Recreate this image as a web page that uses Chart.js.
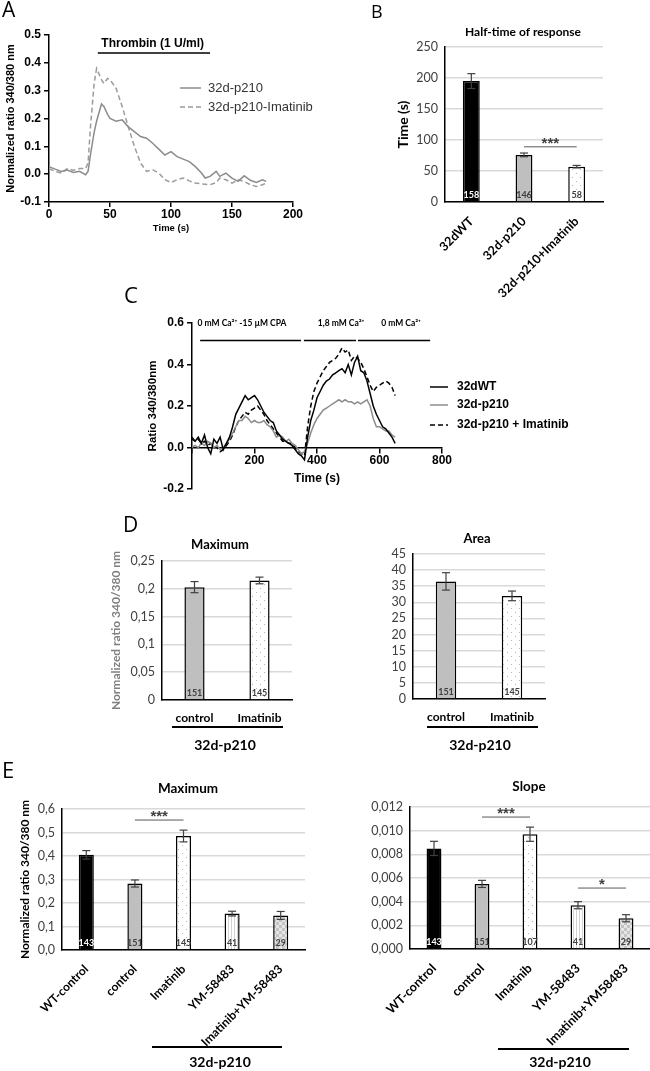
<!DOCTYPE html>
<html>
<head>
<meta charset="utf-8">
<script src="https://cdn.jsdelivr.net/npm/chart.js@4.4.1/dist/chart.umd.min.js"></script>
<style>
  body { margin: 0; background: #fff; }
  #page { position: relative; width: 650px; height: 1071px; overflow: hidden; }
  canvas, .tag { position: absolute; }
  .tag { font-family: "Open Sans", sans-serif; line-height: 1; color: #000; }
</style>
</head>
<body>
<div id="page">
  <canvas id="chA" width="320" height="240" style="left:0;top:0"></canvas>
  <canvas id="chB" width="320" height="300" style="left:330px;top:0"></canvas>
  <canvas id="chC" width="480" height="215" style="left:120px;top:290px"></canvas>
  <canvas id="chDmax" width="230" height="245" style="left:90px;top:515px"></canvas>
  <canvas id="chDarea" width="220" height="245" style="left:345px;top:515px"></canvas>
  <canvas id="chEmax" width="320" height="311" style="left:0;top:760px"></canvas>
  <canvas id="chEslope" width="320" height="311" style="left:330px;top:760px"></canvas>
  <div class="tag" style="left:2px;top:-1px;font-size:21px">A</div>
  <div class="tag" style="left:371px;top:2px;font-size:18px">B</div>
  <div class="tag" style="left:124px;top:283px;font-size:22px">C</div>
  <div class="tag" style="left:123px;top:514px;font-size:21px">D</div>
  <div class="tag" style="left:2px;top:758px;font-size:22px">E</div>
</div>
<script>
const LATO = "Lato, 'Open Sans', sans-serif";
const ARIAL = "'Liberation Sans', Arial, sans-serif";

// A - thrombin (1 U/ml), normalized ratio 340/380
const timeA = [0, 5, 10, 15, 20, 25, 30, 32, 34, 37, 39, 43, 45, 48, 50, 55, 60, 65, 70, 75, 80, 85, 90, 95, 100, 105, 110, 115, 120, 125, 128, 132, 137, 140, 145, 150, 155, 160, 165, 170, 175, 178];
const p210A = [0.027, 0.018, 0.010, 0.015, 0.006, 0.010, -0.002, 0.010, 0.070, 0.150, 0.190, 0.252, 0.243, 0.215, 0.200, 0.190, 0.195, 0.170, 0.153, 0.135, 0.129, 0.111, 0.090, 0.069, 0.081, 0.063, 0.054, 0.045, 0.027, 0.004, -0.014, -0.008, 0.010, -0.008, 0.004, -0.014, -0.026, -0.006, -0.022, -0.030, -0.020, -0.026];
const imatinibA = [0.020, 0.010, 0.004, 0.020, 0.014, 0.020, 0.020, 0.040, 0.170, 0.326, 0.380, 0.340, 0.326, 0.344, 0.340, 0.308, 0.243, 0.170, 0.100, 0.040, 0.010, 0.016, 0.004, -0.020, -0.030, -0.020, -0.014, -0.024, -0.032, -0.035, -0.036, -0.038, -0.030, -0.014, -0.020, -0.032, -0.020, -0.026, -0.038, -0.044, -0.038, -0.032];

// B - half-time of response (s)
const catsB = ['32dWT', '32d-p210', '32d-p210+Imatinib'];
const halfTimeB = [195, 76, 57];
const halfTimeErrB = [12, 3, 2];
const nB = [158, 146, 58];

// C - 0 Ca2+ / CPA, then 1,8 mM Ca2+ add-back
const timeC = [0, 10, 20, 30, 40, 50, 60, 70, 80, 90, 100, 110, 120, 130, 140, 150, 160, 170, 180, 190, 200, 210, 220, 230, 240, 250, 260, 270, 280, 290, 300, 310, 320, 330, 340, 350, 360, 370, 380, 390, 400, 410, 420, 430, 440, 450, 460, 470, 480, 490, 500, 510, 520, 530, 540, 550, 560, 570, 580, 590, 600, 610, 620, 630, 640, 650];
const wtC = [0.04, 0.03, 0.05, 0.02, 0.06, 0.00, -0.03, 0.04, 0.02, 0.05, -0.01, 0.02, 0.05, 0.10, 0.16, 0.19, 0.22, 0.25, 0.23, 0.24, 0.25, 0.23, 0.20, 0.17, 0.15, 0.13, 0.12, 0.08, 0.06, 0.04, 0.03, 0.02, 0.01, -0.01, -0.03, -0.04, -0.06, 0.05, 0.13, 0.18, 0.24, 0.27, 0.30, 0.32, 0.33, 0.35, 0.36, 0.37, 0.38, 0.36, 0.40, 0.35, 0.41, 0.44, 0.37, 0.36, 0.32, 0.26, 0.20, 0.16, 0.13, 0.10, 0.09, 0.07, 0.05, 0.02];
const p210C = [0.00, 0.01, 0.00, 0.02, 0.01, 0.03, 0.02, 0.00, 0.01, -0.01, 0.00, 0.02, 0.04, 0.07, 0.10, 0.13, 0.13, 0.15, 0.14, 0.12, 0.13, 0.12, 0.12, 0.13, 0.11, 0.10, 0.08, 0.05, 0.06, 0.05, 0.03, 0.04, 0.02, 0.01, -0.01, -0.03, -0.02, 0.02, 0.07, 0.11, 0.14, 0.16, 0.18, 0.19, 0.20, 0.21, 0.22, 0.23, 0.22, 0.23, 0.22, 0.22, 0.21, 0.22, 0.21, 0.22, 0.23, 0.20, 0.14, 0.10, 0.10, 0.09, 0.08, 0.08, 0.06, 0.05];
const imatinibC = [0.05, 0.03, 0.04, 0.02, 0.03, 0.01, 0.02, 0.00, 0.00, -0.02, -0.01, 0.01, 0.03, 0.06, 0.10, 0.13, 0.15, 0.17, 0.16, 0.18, 0.19, 0.20, 0.18, 0.16, 0.13, 0.11, 0.09, 0.07, 0.05, 0.03, 0.03, 0.02, 0.02, 0.00, -0.02, -0.03, -0.04, 0.10, 0.20, 0.27, 0.31, 0.34, 0.37, 0.39, 0.41, 0.42, 0.43, 0.45, 0.48, 0.46, 0.47, 0.42, 0.44, 0.43, 0.41, 0.38, 0.34, 0.30, 0.27, 0.29, 0.30, 0.31, 0.32, 0.31, 0.29, 0.25];

// D - 32d-p210 control vs Imatinib
const catsD = ['control', 'Imatinib'];
const maxD = [0.203, 0.215];
const maxErrD = [0.010, 0.006];
const areaD = [36.5, 32.0];
const areaErrD = [2.7, 1.5];
const nD = [151, 145];

// E - maximum and slope
const catsEmax = ['WT-control', 'control', 'Imatinib', 'YM-58483', 'Imatinib+YM-58483'];
const catsEslope = ['WT-control', 'control', 'Imatinib', 'YM-58483', 'Imatinib+YM58483'];
const maxE = [0.405, 0.283, 0.485, 0.155, 0.147];
const maxErrE = [0.018, 0.015, 0.025, 0.010, 0.017];
const nMaxE = [143, 151, 145, 41, 29];
const slopeE = [0.0085, 0.0055, 0.0097, 0.0037, 0.0026];
const slopeErrE = [0.0006, 0.0003, 0.0006, 0.0003, 0.0003];
const nSlopeE = [143, 151, 107, 41, 29];

// fills
function tile(w, h, paint) {
  const p = document.createElement('canvas');
  p.width = w; p.height = h;
  const g = p.getContext('2d');
  g.fillStyle = '#fff'; g.fillRect(0, 0, w, h);
  paint(g);
  return g.createPattern(p, 'repeat');
}
const DOTS = tile(8, 8, g => { g.fillStyle = '#b4b4b4'; g.fillRect(2, 1, 1, 1); g.fillRect(6, 5, 1, 1); });
const STRIPES = tile(3, 4, g => { g.fillStyle = '#d2d2d2'; g.fillRect(0, 0, 1, 4); });
const CHECK = tile(6, 6, g => { g.fillStyle = '#e6e6e6'; g.fillRect(0, 0, 6, 6); g.fillStyle = '#c4c4c4'; g.fillRect(0, 0, 3, 3); g.fillRect(3, 3, 3, 3); });
const GREY = '#bfbfbf';

// drawing helpers
function txt(c, s, x, y, font, color, align) {
  c.font = font; c.fillStyle = color || '#000'; c.textAlign = align || 'center'; c.textBaseline = 'middle';
  c.fillText(s, x, y);
}
function seg(c, x1, y1, x2, y2, color, w, dash) {
  c.beginPath(); c.setLineDash(dash || []); c.strokeStyle = color; c.lineWidth = w;
  c.moveTo(x1, y1); c.lineTo(x2, y2); c.stroke(); c.setLineDash([]);
}
const deco = draw => ({ id: 'deco', afterDraw(chart) { const c = chart.ctx; c.save(); draw(chart, c); c.restore(); } });
const pts = (xs, ys) => xs.map((x, i) => ({ x: x, y: ys[i] }));
function legendLines(chart, c, x, ys, len, gap, font, color) {
  chart.data.datasets.forEach((d, i) => {
    seg(c, x, ys[i], x + len, ys[i], d.borderColor, d.borderWidth, d.borderDash);
    txt(c, d.label, x + len + gap, ys[i], font, color, 'left');
  });
}
const prism = (size, bold) => ({ family: ARIAL, size: size, weight: bold ? 'bold' : 'normal' });

// ---------- A
new Chart(document.getElementById('chA'), {
  type: 'line',
  data: { datasets: [
    { label: '32d-p210', data: pts(timeA, p210A), borderColor: '#8c8c8c', borderWidth: 1.5, pointRadius: 0, tension: 0 },
    { label: '32d-p210-Imatinib', data: pts(timeA, imatinibA), borderColor: '#9c9c9c', borderWidth: 1.5, borderDash: [5, 3], pointRadius: 0, tension: 0 }
  ] },
  options: {
    responsive: false, animation: false,
    layout: { padding: { left: 0, top: 35, right: 27, bottom: 0 } },
    plugins: { legend: { display: false }, tooltip: { enabled: false } },
    scales: {
      x: { type: 'linear', min: 0, max: 200,
        ticks: { stepSize: 50, color: '#000', font: prism(12, true), padding: 0 },
        grid: { drawOnChartArea: false, color: '#000', tickLength: 5, lineWidth: 1.5 },
        border: { color: '#000', width: 1.5 },
        title: { display: true, text: 'Time (s)', color: '#000', font: prism(9.5, true), padding: { top: 0, bottom: 6 } },
        afterFit: s => { s.height = 38; } },
      y: { min: -0.1, max: 0.5,
        ticks: { stepSize: 0.1, color: '#000', font: prism(12, true), padding: 3, callback: v => (Math.abs(v) < 1e-9 ? 0 : v).toFixed(1) },
        grid: { drawOnChartArea: false, color: '#000', tickLength: 5, lineWidth: 1.5 },
        border: { color: '#000', width: 1.5 },
        title: { display: true, text: 'Normalized ratio 340/380 nm', color: '#000', font: prism(11, true), padding: { top: 4, bottom: 0 } },
        afterFit: s => { s.width = 49; } }
    }
  },
  plugins: [deco((chart, c) => {
    const x = chart.scales.x, y = chart.scales.y, a = chart.chartArea;
    seg(c, x.getPixelForValue(40), y.getPixelForValue(0.435), x.getPixelForValue(132), y.getPixelForValue(0.435), '#000', 1.5);
    txt(c, 'Thrombin (1 U/ml)', x.getPixelForValue(85), y.getPixelForValue(0.47), 'bold 12px ' + ARIAL, '#000');
    legendLines(chart, c, a.left + 131, [a.top + 53, a.top + 72], 21, 7, '13px ' + ARIAL, '#333');
  })]
});

// ---------- C
new Chart(document.getElementById('chC'), {
  type: 'line',
  data: { datasets: [
    { label: '32dWT', data: pts(timeC, wtC), borderColor: '#000', borderWidth: 1.5, pointRadius: 0, tension: 0 },
    { label: '32d-p210', data: pts(timeC, p210C), borderColor: '#8c8c8c', borderWidth: 1.5, pointRadius: 0, tension: 0 },
    { label: '32d-p210 + Imatinib', data: pts(timeC, imatinibC), borderColor: '#000', borderWidth: 1.5, borderDash: [5, 3], pointRadius: 0, tension: 0 }
  ] },
  options: {
    responsive: false, animation: false,
    layout: { padding: { left: 22, top: 33, right: 158, bottom: 16 } },
    plugins: { legend: { display: false }, tooltip: { enabled: false } },
    scales: {
      x: { type: 'linear', position: { y: 0 }, min: 0, max: 800,
        ticks: { stepSize: 200, color: '#000', font: prism(12, true), padding: 1, callback: v => (v === 0 ? '' : v) },
        grid: { drawOnChartArea: false, color: '#000', tickLength: 5, lineWidth: 1.5 },
        border: { color: '#000', width: 1.5 },
        title: { display: true, text: 'Time (s)', color: '#000', font: prism(12, true), padding: { top: 0, bottom: 4 } },
        afterFit: s => { s.height = 42; } },
      y: { min: -0.2, max: 0.6,
        ticks: { stepSize: 0.2, color: '#000', font: prism(12, true), padding: 3, callback: v => (Math.abs(v) < 1e-9 ? 0 : v).toFixed(1) },
        grid: { drawOnChartArea: false, color: '#000', tickLength: 5, lineWidth: 1.5 },
        border: { color: '#000', width: 1.5 },
        title: { display: true, text: 'Ratio 340/380nm', color: '#000', font: prism(11.5, true), padding: { top: 4, bottom: 0 } },
        afterFit: s => { s.width = 50; } }
    }
  },
  plugins: [deco((chart, c) => {
    const x = chart.scales.x, y = chart.scales.y, a = chart.chartArea;
    const yb = y.getPixelForValue(0.516), yt = y.getPixelForValue(0.6);
    [[26, 349], [358, 525], [531, 762]].forEach(r => seg(c, x.getPixelForValue(r[0]), yb, x.getPixelForValue(r[1]), yb, '#000', 1.5));
    const f = 'bold 8.5px ' + LATO;
    txt(c, '0 mM Ca²⁺ -15 µM CPA', x.getPixelForValue(160), yt, f);
    txt(c, '1,8 mM Ca²⁺', x.getPixelForValue(477), yt, f);
    txt(c, '0 mM Ca²⁺', x.getPixelForValue(669), yt, f);
    legendLines(chart, c, a.right - 12, [a.top + 64, a.top + 82, a.top + 102], 18, 9, 'bold 12px ' + ARIAL, '#000');
  })]
});

// ---------- Excel-style bar panels
function bars(id, o) {
  return new Chart(document.getElementById(id), {
    type: 'bar',
    data: { labels: o.labels, datasets: [{ data: o.values, backgroundColor: o.fills, borderColor: '#000', borderWidth: 1.5, barPercentage: o.barPct, categoryPercentage: 1 }] },
    options: {
      responsive: false, animation: false,
      layout: { padding: o.pad },
      plugins: { legend: { display: false }, tooltip: { enabled: false } },
      scales: {
        x: { grid: { display: false }, border: { color: '#000', width: 1.5 },
          ticks: { color: '#000', font: { family: LATO, size: o.xFont, weight: 'bold' }, maxRotation: o.rot, minRotation: o.rot, autoSkip: false, padding: o.xPad },
          afterFit: s => { s.height = o.xh; } },
        y: { min: 0, max: o.max, border: { color: '#000', width: 1.5 },
          grid: { color: '#d9d9d9', lineWidth: 1.5, drawTicks: false },
          ticks: { stepSize: o.step, autoSkip: false, color: '#404040', font: { family: LATO, size: 12.5 }, padding: 7, callback: o.fmt },
          title: o.yTitle ? { display: true, text: o.yTitle[0], color: o.yTitle[1], font: { family: LATO, size: o.yTitle[2], weight: 'bold' }, padding: 0 } : { display: false },
          afterFit: s => { s.width = o.yw; } }
      }
    },
    plugins: [deco((chart, c) => {
      const y = chart.scales.y, a = chart.chartArea, el = chart.getDatasetMeta(0).data;
      el.forEach((b, i) => {
        const hi = y.getPixelForValue(o.values[i] + o.err[i]), lo = y.getPixelForValue(o.values[i] - o.err[i]);
        seg(c, b.x, hi, b.x, lo, '#404040', 1.2);
        seg(c, b.x - 4, hi, b.x + 4, hi, '#404040', 1.2);
        seg(c, b.x - 4, lo, b.x + 4, lo, '#404040', 1.2);
        txt(c, String(o.n[i]), b.x, a.bottom - 7, 'bold 9px ' + LATO, o.fills[i] === '#000' ? '#fff' : '#404040');
      });
      txt(c, o.title[0], o.title[1], o.title[2], 'bold ' + o.title[3] + 'px ' + LATO, '#000');
      (o.sig || []).forEach(s => {
        const yy = y.getPixelForValue(s[2]);
        seg(c, el[s[0]].x, yy, el[s[1]].x, yy, '#595959', 1);
        txt(c, s[3], (el[s[0]].x + el[s[1]].x) / 2, yy - 3, 'bold 15px ' + ARIAL, '#404040');
      });
      if (o.group) {
        const g = o.group;
        seg(c, g[0], g[2], g[1], g[2], '#000', 2);
        txt(c, '32d-p210', g[3], g[4], 'bold 14px ' + LATO, '#000');
      }
    })]
  });
}
const comma = d => v => (d < 0 ? String(Math.round(v * 100) / 100) : v.toFixed(d)).replace('.', ',');

bars('chB', { labels: catsB, values: halfTimeB, err: halfTimeErrB, n: nB, fills: ['#000', GREY, DOTS],
  barPct: 0.32, pad: { left: 65, top: 47, right: 47, bottom: 0 }, yw: 50, xh: 98, rot: 45, xPad: 4, xFont: 12.5,
  max: 250, step: 50, fmt: v => v, yTitle: ['Time (s)', '#000', 14],
  title: ['Half-time of response', 193, 32, 12], sig: [[1, 2, 89, '***']] });

bars('chDmax', { labels: catsD, values: maxD, err: maxErrD, n: nD, fills: [GREY, DOTS],
  barPct: 0.31, pad: { left: 19, top: 46, right: 28, bottom: 0 }, yw: 53, xh: 60, rot: 0, xPad: 3, xFont: 12,
  max: 0.25, step: 0.05, fmt: comma(-1), yTitle: ['Normalized ratio 340/380 nm', '#7f7f7f', 12],
  title: ['Maximum', 130, 30, 13], group: [82, 193, 212, 135, 230] });

bars('chDarea', { labels: catsD, values: areaD, err: areaErrD, n: nD, fills: [GREY, DOTS],
  barPct: 0.31, pad: { left: 30, top: 39, right: 20, bottom: 0 }, yw: 38, xh: 61, rot: 0, xPad: 3, xFont: 12,
  max: 45, step: 5, fmt: v => v,
  title: ['Area', 132, 24, 13], group: [82, 193, 212, 135, 230] });

bars('chEmax', { labels: catsEmax, values: maxE, err: maxErrE, n: nMaxE, fills: ['#000', GREY, DOTS, STRIPES, CHECK],
  barPct: 0.31, pad: { left: 18, top: 49, right: 15, bottom: 0 }, yw: 44, xh: 121, rot: 45, xPad: 4, xFont: 12,
  max: 0.6, step: 0.1, fmt: comma(1), yTitle: ['Normalized ratio 340/380 nm', '#000', 12],
  title: ['Maximum', 188, 29, 13.5], sig: [[1, 2, 0.553, '***']], group: [152, 282, 287, 220, 302] });

bars('chEslope', { labels: catsEslope, values: slopeE, err: slopeErrE, n: nSlopeE, fills: ['#000', GREY, DOTS, STRIPES, CHECK],
  barPct: 0.31, pad: { left: 28, top: 47, right: 0, bottom: 0 }, yw: 52, xh: 122, rot: 45, xPad: 4, xFont: 12.5,
  max: 0.012, step: 0.002, fmt: comma(3),
  title: ['Slope', 199, 27, 13.5], sig: [[1, 2, 0.01115, '***'], [3, 4, 0.00515, '*']], group: [168, 299, 289, 230, 302] });
</script>
</body>
</html>
